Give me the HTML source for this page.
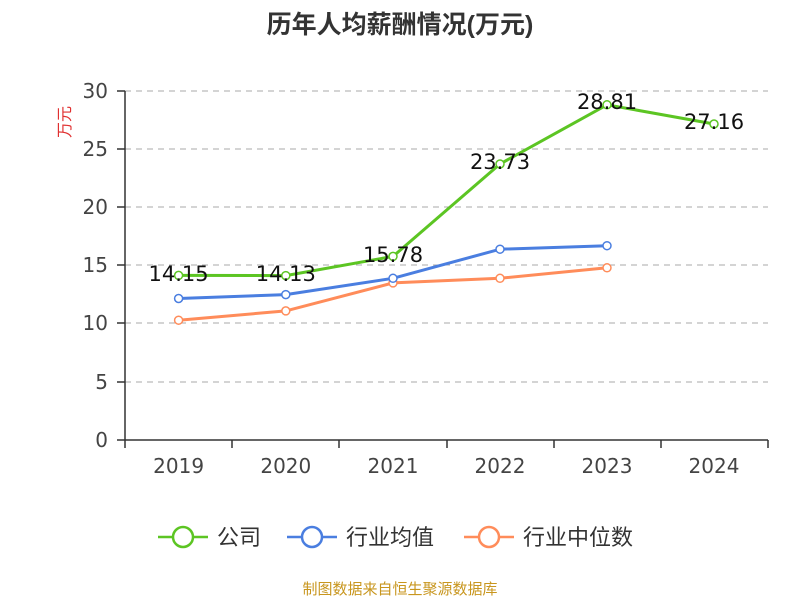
<!DOCTYPE html>
<html><head><meta charset="utf-8"><style>
html,body{margin:0;padding:0;background:#fff;}
</style></head><body>
<svg width="800" height="600" xmlns="http://www.w3.org/2000/svg" font-family="DejaVu Sans, Noto Sans CJK SC, sans-serif">
<text x="400" y="33" text-anchor="middle" font-size="25" font-weight="bold" fill="#333" font-family="Liberation Sans, Noto Sans CJK SC, sans-serif">历年人均薪酬情况(万元)</text>
<text x="70" y="122" font-size="16" fill="#e03030" transform="rotate(-90 70 122)" text-anchor="middle" font-family="Noto Sans CJK SC, sans-serif">万元</text>
<g stroke="#aaa" stroke-dasharray="6,5" stroke-width="1">
<line x1="125" x2="768" y1="91" y2="91"/><line x1="125" x2="768" y1="149" y2="149"/>
<line x1="125" x2="768" y1="207" y2="207"/><line x1="125" x2="768" y1="265" y2="265"/>
<line x1="125" x2="768" y1="323" y2="323"/><line x1="125" x2="768" y1="382" y2="382"/>
</g>
<g stroke="#333" stroke-width="1.5">
<line x1="125" x2="125" y1="91" y2="440"/>
<line x1="125" x2="768" y1="440" y2="440"/>
<line x1="117" x2="125" y1="91" y2="91"/><line x1="117" x2="125" y1="149" y2="149"/>
<line x1="117" x2="125" y1="207" y2="207"/><line x1="117" x2="125" y1="265" y2="265"/>
<line x1="117" x2="125" y1="323" y2="323"/><line x1="117" x2="125" y1="382" y2="382"/>
<line x1="117" x2="125" y1="440" y2="440"/>
<line x1="125" x2="125" y1="440" y2="448"/><line x1="232" x2="232" y1="440" y2="448"/>
<line x1="339" x2="339" y1="440" y2="448"/><line x1="447" x2="447" y1="440" y2="448"/>
<line x1="554" x2="554" y1="440" y2="448"/><line x1="661" x2="661" y1="440" y2="448"/>
<line x1="768" x2="768" y1="440" y2="448"/>
</g>
<g font-size="20" fill="#444" text-anchor="end">
<text x="108" y="98">30</text><text x="108" y="156">25</text><text x="108" y="214">20</text>
<text x="108" y="272">15</text><text x="108" y="330">10</text><text x="108" y="389">5</text><text x="108" y="447">0</text>
</g>
<g font-size="20" fill="#444" text-anchor="middle">
<text x="178.6" y="473">2019</text><text x="285.8" y="473">2020</text><text x="393" y="473">2021</text>
<text x="500" y="473">2022</text><text x="607" y="473">2023</text><text x="714" y="473">2024</text>
</g>
<g fill="none" stroke-width="3">
<polyline stroke="#ff8c5a" points="178.6,320.2 285.8,310.9 393,282.9 500,278.3 607,267.8"/>
<polyline stroke="#4a7ee0" points="178.6,298.5 285.8,294.6 393,278.3 500,249.2 607,245.7"/>
<polyline stroke="#5cc523" points="178.6,275.4 285.8,275.6 393,256.4 500,164 607,104.8 714,124"/>
</g>
<g fill="#fff" stroke-width="1.5">
<g stroke="#ff8c5a"><circle cx="178.6" cy="320.2" r="4"/><circle cx="285.8" cy="310.9" r="4"/><circle cx="393" cy="282.9" r="4"/><circle cx="500" cy="278.3" r="4"/><circle cx="607" cy="267.8" r="4"/></g>
<g stroke="#4a7ee0"><circle cx="178.6" cy="298.5" r="4"/><circle cx="285.8" cy="294.6" r="4"/><circle cx="393" cy="278.3" r="4"/><circle cx="500" cy="249.2" r="4"/><circle cx="607" cy="245.7" r="4"/></g>
<g stroke="#5cc523"><circle cx="178.6" cy="275.4" r="4"/><circle cx="285.8" cy="275.6" r="4"/><circle cx="393" cy="256.4" r="4"/><circle cx="500" cy="164" r="4"/><circle cx="607" cy="104.8" r="4"/><circle cx="714" cy="124" r="4"/></g>
</g>
<g font-size="21" fill="#111" text-anchor="middle">
<text x="178.6" y="281">14.15</text><text x="285.8" y="281">14.13</text><text x="393" y="262">15.78</text>
<text x="500" y="169">23.73</text><text x="607" y="109">28.81</text><text x="714" y="129">27.16</text>
</g>
<g stroke-width="2.5" fill="#fff">
<line x1="158" x2="208" y1="537" y2="537" stroke="#5cc523"/><circle cx="183" cy="537" r="10" stroke="#5cc523"/>
<line x1="287" x2="337" y1="537" y2="537" stroke="#4a7ee0"/><circle cx="312" cy="537" r="10" stroke="#4a7ee0"/>
<line x1="464" x2="514" y1="537" y2="537" stroke="#ff8c5a"/><circle cx="489" cy="537" r="10" stroke="#ff8c5a"/>
</g>
<g font-size="22" fill="#333" font-family="Noto Sans CJK SC, sans-serif">
<text x="217" y="545">公司</text><text x="346" y="545">行业均值</text><text x="523" y="545">行业中位数</text>
</g>
<text x="400" y="594" text-anchor="middle" font-size="15" fill="#c8961e" font-family="Noto Sans CJK SC, sans-serif">制图数据来自恒生聚源数据库</text>
</svg>
</body></html>
